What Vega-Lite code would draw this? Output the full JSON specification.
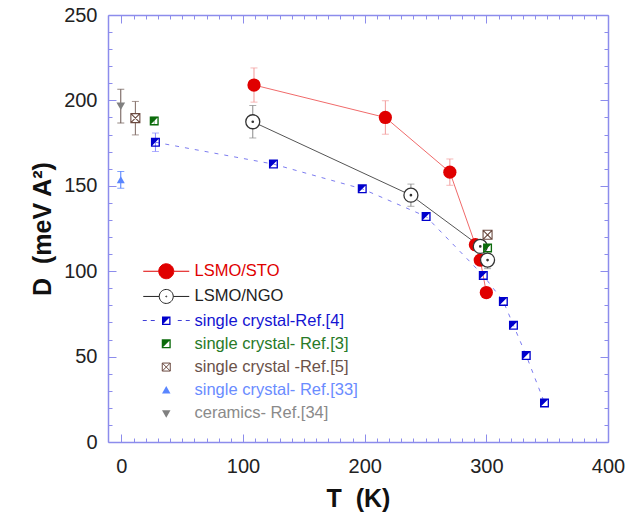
{
  "$schema": "https://vega.github.io/schema/vega-lite/v6.json",
  "width": 500,
  "height": 427,
  "autosize": {"type": "none"},
  "padding": {"left": 108, "top": 15, "right": 36, "bottom": 74},
  "background": "white",
  "config": {
    "view": {"stroke": null},
    "font": "Liberation Sans",
    "axis": {
      "domainColor": "#8c8cec",
      "domainWidth": 1.5,
      "tickColor": "#8c8cec",
      "tickWidth": 1,
      "tickSize": -4,
      "grid": false,
      "labelFont": "Liberation Sans",
      "labelFontSize": 20,
      "labelColor": "#222222",
      "labelOverlap": false,
      "labelFlush": false,
      "labelBound": false,
      "titleFont": "Liberation Sans",
      "titleFontSize": 25,
      "titleFontWeight": "bold",
      "titleColor": "#111111"
    }
  },
  "datasets": {
    "sto": [
      {"T": 109, "D": 209, "err": 10},
      {"T": 217, "D": 190, "err": 9.8},
      {"T": 270, "D": 158, "err": 7.7},
      {"T": 291, "D": 115.5, "err": 3},
      {"T": 295, "D": 106.5, "err": 0},
      {"T": 300, "D": 87.5, "err": 0}
    ],
    "ngo": [
      {"T": 108, "D": 187.5, "err": 9.5},
      {"T": 238, "D": 144.5, "err": 6.5},
      {"T": 295, "D": 114.5, "err": 0},
      {"T": 301, "D": 106.5, "err": 5}
    ],
    "ref4": [
      {"T": 28, "D": 175.5, "err": 5.4},
      {"T": 125, "D": 162.7, "err": 0},
      {"T": 198, "D": 148.2, "err": 0},
      {"T": 250.5, "D": 132, "err": 0},
      {"T": 297.5, "D": 97.5, "err": 0},
      {"T": 314, "D": 82.3, "err": 0},
      {"T": 322.3, "D": 68.3, "err": 0},
      {"T": 332.8, "D": 50.6, "err": 0},
      {"T": 347.8, "D": 22.9, "err": 0}
    ],
    "ref3": [
      {"T": 27, "D": 188, "err": 2.2},
      {"T": 301, "D": 113.6, "err": 0}
    ],
    "ref5": [
      {"T": 11.5, "D": 189.6, "err": 9.8},
      {"T": 301, "D": 121.3, "err": 0}
    ],
    "ref33": [
      {"T": -0.5, "D": 153.5, "err": 4.9}
    ],
    "ref34": [
      {"T": -0.5, "D": 196.6, "err": 9.9}
    ]
  },
  "encoding": {
    "x": {"field": "T", "type": "quantitative", "axis": null, "scale": {"domain": [-11, 400], "nice": false, "zero": false}},
    "y": {"field": "D", "type": "quantitative", "axis": null, "scale": {"domain": [0, 250], "nice": false, "zero": false}}
  },
  "layer": [
    {
      "data": {"name": "sto"},
      "mark": {"type": "line", "color": "#f06a6a", "strokeWidth": 1},
      "encoding": {
        "x": {
          "field": "T", "type": "quantitative",
          "scale": {"domain": [-11, 400], "nice": false, "zero": false},
          "axis": {
            "orient": "bottom",
            "values": [0,10,20,30,40,50,60,70,80,90,100,110,120,130,140,150,160,170,180,190,200,210,220,230,240,250,260,270,280,290,300,310,320,330,340,350,360,370,380,390,400],
            "labelExpr": "datum.value % 100 === 0 ? datum.label : ''",
            "labelPadding": 18,
            "title": "T\u00a0\u00a0(K)",
            "titleBaseline": "top",
            "titleY": 44,
            "encoding": {"ticks": {"y2": {"condition": {"test": "datum.value % 100 === 0", "value": -8}, "value": -4}}}
          }
        },
        "y": {
          "field": "D", "type": "quantitative",
          "scale": {"domain": [0, 250], "nice": false, "zero": false},
          "axis": {
            "orient": "left",
            "values": [0,10,20,30,40,50,60,70,80,90,100,110,120,130,140,150,160,170,180,190,200,210,220,230,240,250],
            "labelExpr": "datum.value % 50 === 0 ? datum.label : ''",
            "labelPadding": 15,
            "title": "D\u00a0\u00a0(meV A²)",
            "titleBaseline": "alphabetic",
            "titleX": -58,
            "encoding": {"ticks": {"x2": {"condition": {"test": "datum.value % 50 === 0", "value": 8}, "value": 4}}}
          }
        }
      }
    },
    {
      "data": {"name": "ngo"},
      "mark": {"type": "line", "color": "#555555", "strokeWidth": 1},
      "encoding": {
        "x": {
          "field": "T", "type": "quantitative",
          "axis": {
            "orient": "top",
            "values": [0,10,20,30,40,50,60,70,80,90,100,110,120,130,140,150,160,170,180,190,200,210,220,230,240,250,260,270,280,290,300,310,320,330,340,350,360,370,380,390,400],
            "labels": false,
            "title": null,
            "encoding": {"ticks": {"y2": {"condition": {"test": "datum.value % 100 === 0", "value": 8}, "value": 4}}}
          }
        },
        "y": {
          "field": "D", "type": "quantitative",
          "axis": {
            "orient": "right",
            "values": [0,10,20,30,40,50,60,70,80,90,100,110,120,130,140,150,160,170,180,190,200,210,220,230,240,250],
            "labels": false,
            "title": null,
            "encoding": {"ticks": {"x2": {"condition": {"test": "datum.value % 50 === 0", "value": -8}, "value": -4}}}
          }
        }
      }
    },
    {
      "data": {"name": "ref4"},
      "mark": {"type": "line", "color": "#7c7cf0", "strokeWidth": 1, "strokeDash": [4, 6]}
    },
    {
      "data": {"name": "sto"},
      "transform": [{"filter": "datum.err > 0"}],
      "mark": {"type": "errorbar", "color": "#f29a9a", "ticks": {"size": 7}},
      "encoding": {"yError": {"field": "err"}}
    },
    {
      "data": {"name": "ngo"},
      "transform": [{"filter": "datum.err > 0"}],
      "mark": {"type": "errorbar", "color": "#8a8a8a", "ticks": {"size": 7}},
      "encoding": {"yError": {"field": "err"}}
    },
    {
      "data": {"name": "ref4"},
      "transform": [{"filter": "datum.err > 0"}],
      "mark": {"type": "errorbar", "color": "#8a8aff", "ticks": {"size": 7}},
      "encoding": {"yError": {"field": "err"}}
    },
    {
      "data": {"name": "ref3"},
      "transform": [{"filter": "datum.err > 0"}],
      "mark": {"type": "errorbar", "color": "#8fc08f", "ticks": {"size": 7}},
      "encoding": {"yError": {"field": "err"}}
    },
    {
      "data": {"name": "ref5"},
      "transform": [{"filter": "datum.err > 0"}],
      "mark": {"type": "errorbar", "color": "#7d6660", "ticks": {"size": 7}},
      "encoding": {"yError": {"field": "err"}}
    },
    {
      "data": {"name": "ref33"},
      "transform": [{"filter": "datum.err > 0"}],
      "mark": {"type": "errorbar", "color": "#4a7aff", "ticks": {"size": 7}},
      "encoding": {"yError": {"field": "err"}}
    },
    {
      "data": {"name": "ref34"},
      "transform": [{"filter": "datum.err > 0"}],
      "mark": {"type": "errorbar", "color": "#6a5550", "ticks": {"size": 7}},
      "encoding": {"yError": {"field": "err"}}
    },
    {
      "data": {"name": "ref4"},
      "mark": {"type": "point", "filled": true, "opacity": 1, "size": 81, "fill": "#0000cc",
        "shape": "M-1,-1H1V1H-1ZM0.7,-0.7L-0.7,0.7L0.7,0.7Z"}
    },
    {
      "data": {"name": "sto"},
      "mark": {"type": "point", "filled": true, "opacity": 1, "size": 175, "fill": "#e00000", "shape": "circle"}
    },
    {
      "data": {"name": "ngo"},
      "mark": {"type": "point", "filled": true, "opacity": 1, "size": 196, "fill": "#ffffff", "stroke": "#333333", "strokeWidth": 1.3,
        "shape": "M-1,0A1,1,0,1,1,1,0A1,1,0,1,1,-1,0ZM-0.1,0A0.1,0.1,0,1,1,0.1,0A0.1,0.1,0,1,1,-0.1,0Z"}
    },
    {
      "data": {"name": "ref3"},
      "mark": {"type": "point", "filled": true, "opacity": 1, "size": 81, "fill": "#0b6b0b",
        "shape": "M-1,-1H1V1H-1ZM0.7,-0.7L-0.7,0.7L0.7,0.7Z"}
    },
    {
      "data": {"name": "ref5"},
      "mark": {"type": "point", "filled": true, "opacity": 1, "size": 81, "fill": "#ffffff", "stroke": "#6b4a40", "strokeWidth": 1.1,
        "shape": "M-1,-1H1V1H-1ZM-1,-1L1,1M1,-1L-1,1"}
    },
    {
      "data": {"name": "ref33"},
      "mark": {"type": "point", "filled": true, "opacity": 1, "size": 64, "fill": "#5a86ff", "shape": "triangle-up"}
    },
    {
      "data": {"name": "ref34"},
      "mark": {"type": "point", "filled": true, "opacity": 1, "size": 75, "fill": "#808080", "shape": "triangle-down"}
    },
    {
      "data": {"name": "sto"},
      "transform": [{"filter": "false"}],
      "mark": {"type": "point", "filled": true, "opacity": 1},
      "encoding": {
        "fill": {
          "field": "series", "type": "nominal",
          "scale": {
            "domain": ["LSMO/STO", "LSMO/NGO", "single crystal-Ref.[4]", "single crystal- Ref.[3]", "single crystal -Ref.[5]", "single crystal- Ref.[33]", "ceramics- Ref.[34]"],
            "range": ["#e00000", "#ffffff", "#0000cc", "#0b6b0b", "#ffffff", "#5a86ff", "#808080"]
          },
          "legend": {
            "title": null, "orient": "none", "legendX": 50, "legendY": 248,
            "labelFont": "Liberation Sans", "labelFontSize": 16.5, "labelOffset": 20, "labelLimit": 0,
            "symbolSize": 100, "symbolStrokeWidth": 1, "rowPadding": 6.2, "padding": 0,
            "labelColor": {"expr": "datum.label === 'LSMO/STO' ? '#e00000' : datum.label === 'LSMO/NGO' ? '#222222' : datum.label === 'single crystal-Ref.[4]' ? '#1414d2' : datum.label === 'single crystal- Ref.[3]' ? '#287a28' : datum.label === 'single crystal -Ref.[5]' ? '#6b524a' : datum.label === 'single crystal- Ref.[33]' ? '#6a8cff' : '#8a8a8a'"}
          }
        },
        "stroke": {
          "field": "series", "type": "nominal",
          "scale": {
            "domain": ["LSMO/STO", "LSMO/NGO", "single crystal-Ref.[4]", "single crystal- Ref.[3]", "single crystal -Ref.[5]", "single crystal- Ref.[33]", "ceramics- Ref.[34]"],
            "range": ["#e00000", "#222222", "transparent", "transparent", "#6b4a40", "transparent", "transparent"]
          },
          "legend": {
            "title": null, "orient": "none", "legendX": 50, "legendY": 248,
            "labelFont": "Liberation Sans", "labelFontSize": 16.5, "labelOffset": 20, "labelLimit": 0,
            "symbolSize": 100, "symbolStrokeWidth": 1, "rowPadding": 6.2, "padding": 0,
            "labelColor": {"expr": "datum.label === 'LSMO/STO' ? '#e00000' : datum.label === 'LSMO/NGO' ? '#222222' : datum.label === 'single crystal-Ref.[4]' ? '#1414d2' : datum.label === 'single crystal- Ref.[3]' ? '#287a28' : datum.label === 'single crystal -Ref.[5]' ? '#6b524a' : datum.label === 'single crystal- Ref.[33]' ? '#6a8cff' : '#8a8a8a'"}
          }
        },
        "shape": {
          "field": "series", "type": "nominal",
          "scale": {
            "domain": ["LSMO/STO", "LSMO/NGO", "single crystal-Ref.[4]", "single crystal- Ref.[3]", "single crystal -Ref.[5]", "single crystal- Ref.[33]", "ceramics- Ref.[34]"],
            "range": [
              "M-4.6,0H-1.5M1.5,0H4.6M-1.5,0A1.5,1.5,0,1,1,1.5,0A1.5,1.5,0,1,1,-1.5,0Z",
              "M-4.6,0H-1.4M1.4,0H4.6M-1.4,0A1.4,1.4,0,1,1,1.4,0A1.4,1.4,0,1,1,-1.4,0ZM-0.1,0A0.1,0.1,0,1,1,0.1,0A0.1,0.1,0,1,1,-0.1,0Z",
              "M-0.85,-0.85H0.85V0.85H-0.85ZM0.6,-0.6L-0.6,0.6L0.6,0.6ZM-4.7,-0.09H-3.9V0.09H-4.7ZM-3.1,-0.09H-2.3V0.09H-3.1ZM2.3,-0.09H3.1V0.09H2.3ZM3.9,-0.09H4.7V0.09H3.9Z",
              "M-0.9,-0.9H0.9V0.9H-0.9ZM0.63,-0.63L-0.63,0.63L0.63,0.63Z",
              "M-0.8,-0.8H0.8V0.8H-0.8ZM-0.8,-0.8L0.8,0.8M0.8,-0.8L-0.8,0.8",
              "M0,-0.85L0.85,0.65L-0.85,0.65Z",
              "M0,0.85L0.85,-0.65L-0.85,-0.65Z"
            ]
          },
          "legend": {
            "title": null, "orient": "none", "legendX": 50, "legendY": 248,
            "labelFont": "Liberation Sans", "labelFontSize": 16.5, "labelOffset": 20, "labelLimit": 0,
            "symbolSize": 100, "symbolStrokeWidth": 1, "rowPadding": 6.2, "padding": 0,
            "labelColor": {"expr": "datum.label === 'LSMO/STO' ? '#e00000' : datum.label === 'LSMO/NGO' ? '#222222' : datum.label === 'single crystal-Ref.[4]' ? '#1414d2' : datum.label === 'single crystal- Ref.[3]' ? '#287a28' : datum.label === 'single crystal -Ref.[5]' ? '#6b524a' : datum.label === 'single crystal- Ref.[33]' ? '#6a8cff' : '#8a8a8a'"}
          }
        }
      }
    }
  ],
  "resolve": {"axis": {"x": "independent", "y": "independent"}}
}
